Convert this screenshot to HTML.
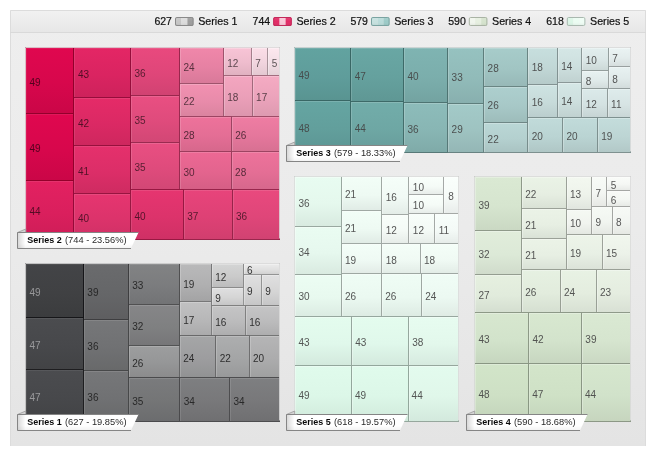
<!DOCTYPE html>
<html><head><meta charset="utf-8"><title>TreeMap</title>
<style>
html,body{margin:0;padding:0;background:#fff;}
body{width:655px;height:455px;overflow:hidden;}
svg{display:block;font-family:"Liberation Sans",Arial,sans-serif;}
svg text{font-size:10px;}
.cells text{fill-opacity:0.9;}
.hl{fill:none;stroke:#fff;}
.lg{font-size:11px;fill:#111;stroke:#111;stroke-width:0.2px;}
.lb{font-size:9.5px;font-weight:bold;fill:#0a0a0a;}
.lv{font-size:9.5px;fill:#2a2a2a;}
</style></head><body>
<svg width="655" height="455" viewBox="0 0 655 455">
<defs>
<linearGradient id="pan" x1="0" y1="0" x2="0" y2="1"><stop offset="0" stop-color="#eeeeee"/><stop offset="0.5" stop-color="#ebebeb"/><stop offset="1" stop-color="#e4e4e4"/></linearGradient>
<linearGradient id="hdr" x1="0" y1="0" x2="0" y2="1"><stop offset="0" stop-color="#f1f1f1"/><stop offset="1" stop-color="#e7e7e7"/></linearGradient>
<linearGradient id="icg" x1="0" y1="0" x2="0" y2="1"><stop offset="0" stop-color="#fff" stop-opacity="0.12"/><stop offset="0.5" stop-color="#fff" stop-opacity="0"/><stop offset="1" stop-color="#000" stop-opacity="0.08"/></linearGradient>
<linearGradient id="lab" x1="0" y1="0" x2="0" y2="1"><stop offset="0" stop-color="#000" stop-opacity="0"/><stop offset="0.7" stop-color="#000" stop-opacity="0"/><stop offset="1" stop-color="#000" stop-opacity="0.05"/></linearGradient>
<linearGradient id="labl" x1="0" y1="0" x2="1" y2="0"><stop offset="0" stop-color="#000" stop-opacity="0.16"/><stop offset="1" stop-color="#000" stop-opacity="0"/></linearGradient>
<linearGradient id="g2_5" x1="0" y1="0" x2="0" y2="1"><stop offset="0" stop-color="#fde8ef"/><stop offset="0.55" stop-color="#f2dee5"/><stop offset="1" stop-color="#e4d1d7"/></linearGradient>
<linearGradient id="g2_7" x1="0" y1="0" x2="0" y2="1"><stop offset="0" stop-color="#fcdee8"/><stop offset="0.55" stop-color="#f1d4de"/><stop offset="1" stop-color="#e3c8d1"/></linearGradient>
<linearGradient id="g2_12" x1="0" y1="0" x2="0" y2="1"><stop offset="0" stop-color="#f8c4d6"/><stop offset="0.55" stop-color="#eebccd"/><stop offset="1" stop-color="#e0b1c0"/></linearGradient>
<linearGradient id="g2_17" x1="0" y1="0" x2="0" y2="1"><stop offset="0" stop-color="#f5abc3"/><stop offset="0.55" stop-color="#eba3bb"/><stop offset="1" stop-color="#dd9ab0"/></linearGradient>
<linearGradient id="g2_18" x1="0" y1="0" x2="0" y2="1"><stop offset="0" stop-color="#f4a6c0"/><stop offset="0.55" stop-color="#ea9fb8"/><stop offset="1" stop-color="#dc95ad"/></linearGradient>
<linearGradient id="g2_22" x1="0" y1="0" x2="0" y2="1"><stop offset="0" stop-color="#f291b1"/><stop offset="0.55" stop-color="#e88baa"/><stop offset="1" stop-color="#da839f"/></linearGradient>
<linearGradient id="g2_24" x1="0" y1="0" x2="0" y2="1"><stop offset="0" stop-color="#f087aa"/><stop offset="0.55" stop-color="#e681a3"/><stop offset="1" stop-color="#d87999"/></linearGradient>
<linearGradient id="g2_26" x1="0" y1="0" x2="0" y2="1"><stop offset="0" stop-color="#ef7da3"/><stop offset="0.55" stop-color="#e5779c"/><stop offset="1" stop-color="#d77092"/></linearGradient>
<linearGradient id="g2_28" x1="0" y1="0" x2="0" y2="1"><stop offset="0" stop-color="#ee729b"/><stop offset="0.55" stop-color="#e46e95"/><stop offset="1" stop-color="#d6678c"/></linearGradient>
<linearGradient id="g2_30" x1="0" y1="0" x2="0" y2="1"><stop offset="0" stop-color="#ed6894"/><stop offset="0.55" stop-color="#e3648e"/><stop offset="1" stop-color="#d55e85"/></linearGradient>
<linearGradient id="g2_35" x1="0" y1="0" x2="0" y2="1"><stop offset="0" stop-color="#e94f82"/><stop offset="0.55" stop-color="#df4b7c"/><stop offset="1" stop-color="#d24775"/></linearGradient>
<linearGradient id="g2_36" x1="0" y1="0" x2="0" y2="1"><stop offset="0" stop-color="#e9497e"/><stop offset="0.55" stop-color="#df4679"/><stop offset="1" stop-color="#d14272"/></linearGradient>
<linearGradient id="g2_37" x1="0" y1="0" x2="0" y2="1"><stop offset="0" stop-color="#e8447b"/><stop offset="0.55" stop-color="#de4175"/><stop offset="1" stop-color="#d13e6e"/></linearGradient>
<linearGradient id="g2_40" x1="0" y1="0" x2="0" y2="1"><stop offset="0" stop-color="#e63570"/><stop offset="0.55" stop-color="#dc336b"/><stop offset="1" stop-color="#cf3065"/></linearGradient>
<linearGradient id="g2_41" x1="0" y1="0" x2="0" y2="1"><stop offset="0" stop-color="#e5306c"/><stop offset="0.55" stop-color="#dc2e68"/><stop offset="1" stop-color="#ce2b61"/></linearGradient>
<linearGradient id="g2_42" x1="0" y1="0" x2="0" y2="1"><stop offset="0" stop-color="#e52b68"/><stop offset="0.55" stop-color="#db2964"/><stop offset="1" stop-color="#ce275e"/></linearGradient>
<linearGradient id="g2_43" x1="0" y1="0" x2="0" y2="1"><stop offset="0" stop-color="#e42665"/><stop offset="0.55" stop-color="#da2461"/><stop offset="1" stop-color="#cd225b"/></linearGradient>
<linearGradient id="g2_44" x1="0" y1="0" x2="0" y2="1"><stop offset="0" stop-color="#e32161"/><stop offset="0.55" stop-color="#da1f5d"/><stop offset="1" stop-color="#cd1d57"/></linearGradient>
<linearGradient id="g2_49" x1="0" y1="0" x2="0" y2="1"><stop offset="0" stop-color="#e0074f"/><stop offset="0.55" stop-color="#d7074c"/><stop offset="1" stop-color="#ca0647"/></linearGradient>
<linearGradient id="g1_6" x1="0" y1="0" x2="0" y2="1"><stop offset="0" stop-color="#ececec"/><stop offset="0.55" stop-color="#e0e0e0"/><stop offset="1" stop-color="#d0d0d0"/></linearGradient>
<linearGradient id="g1_9" x1="0" y1="0" x2="0" y2="1"><stop offset="0" stop-color="#e0e0e1"/><stop offset="0.55" stop-color="#d5d5d5"/><stop offset="1" stop-color="#c5c5c6"/></linearGradient>
<linearGradient id="g1_12" x1="0" y1="0" x2="0" y2="1"><stop offset="0" stop-color="#d4d5d5"/><stop offset="0.55" stop-color="#cacaca"/><stop offset="1" stop-color="#bbbbbc"/></linearGradient>
<linearGradient id="g1_16" x1="0" y1="0" x2="0" y2="1"><stop offset="0" stop-color="#c5c5c6"/><stop offset="0.55" stop-color="#bbbbbc"/><stop offset="1" stop-color="#adadae"/></linearGradient>
<linearGradient id="g1_17" x1="0" y1="0" x2="0" y2="1"><stop offset="0" stop-color="#c1c1c2"/><stop offset="0.55" stop-color="#b7b7b8"/><stop offset="1" stop-color="#aaaaab"/></linearGradient>
<linearGradient id="g1_19" x1="0" y1="0" x2="0" y2="1"><stop offset="0" stop-color="#b9b9ba"/><stop offset="0.55" stop-color="#b0b0b1"/><stop offset="1" stop-color="#a3a3a4"/></linearGradient>
<linearGradient id="g1_20" x1="0" y1="0" x2="0" y2="1"><stop offset="0" stop-color="#b5b5b6"/><stop offset="0.55" stop-color="#acacad"/><stop offset="1" stop-color="#9fa0a0"/></linearGradient>
<linearGradient id="g1_22" x1="0" y1="0" x2="0" y2="1"><stop offset="0" stop-color="#adaeaf"/><stop offset="0.55" stop-color="#a4a5a6"/><stop offset="1" stop-color="#98999a"/></linearGradient>
<linearGradient id="g1_24" x1="0" y1="0" x2="0" y2="1"><stop offset="0" stop-color="#a5a6a7"/><stop offset="0.55" stop-color="#9d9d9f"/><stop offset="1" stop-color="#919293"/></linearGradient>
<linearGradient id="g1_26" x1="0" y1="0" x2="0" y2="1"><stop offset="0" stop-color="#9d9e9f"/><stop offset="0.55" stop-color="#959697"/><stop offset="1" stop-color="#8b8b8c"/></linearGradient>
<linearGradient id="g1_32" x1="0" y1="0" x2="0" y2="1"><stop offset="0" stop-color="#868688"/><stop offset="0.55" stop-color="#7f8081"/><stop offset="1" stop-color="#767678"/></linearGradient>
<linearGradient id="g1_33" x1="0" y1="0" x2="0" y2="1"><stop offset="0" stop-color="#828384"/><stop offset="0.55" stop-color="#7b7c7e"/><stop offset="1" stop-color="#727375"/></linearGradient>
<linearGradient id="g1_34" x1="0" y1="0" x2="0" y2="1"><stop offset="0" stop-color="#7e7f81"/><stop offset="0.55" stop-color="#78787a"/><stop offset="1" stop-color="#6f6f71"/></linearGradient>
<linearGradient id="g1_35" x1="0" y1="0" x2="0" y2="1"><stop offset="0" stop-color="#7a7b7d"/><stop offset="0.55" stop-color="#747576"/><stop offset="1" stop-color="#6b6c6e"/></linearGradient>
<linearGradient id="g1_36" x1="0" y1="0" x2="0" y2="1"><stop offset="0" stop-color="#767779"/><stop offset="0.55" stop-color="#707173"/><stop offset="1" stop-color="#68696a"/></linearGradient>
<linearGradient id="g1_39" x1="0" y1="0" x2="0" y2="1"><stop offset="0" stop-color="#6a6b6d"/><stop offset="0.55" stop-color="#656668"/><stop offset="1" stop-color="#5e5e60"/></linearGradient>
<linearGradient id="g1_47" x1="0" y1="0" x2="0" y2="1"><stop offset="0" stop-color="#4b4c4f"/><stop offset="0.55" stop-color="#47484b"/><stop offset="1" stop-color="#424345"/></linearGradient>
<linearGradient id="g1_49" x1="0" y1="0" x2="0" y2="1"><stop offset="0" stop-color="#434447"/><stop offset="0.55" stop-color="#404143"/><stop offset="1" stop-color="#3b3c3e"/></linearGradient>
<linearGradient id="g5_8" x1="0" y1="0" x2="0" y2="1"><stop offset="0" stop-color="#fafffc"/><stop offset="0.55" stop-color="#f6fbf8"/><stop offset="1" stop-color="#e8ecea"/></linearGradient>
<linearGradient id="g5_10" x1="0" y1="0" x2="0" y2="1"><stop offset="0" stop-color="#f9fffb"/><stop offset="0.55" stop-color="#f5fbf7"/><stop offset="1" stop-color="#e7ece9"/></linearGradient>
<linearGradient id="g5_11" x1="0" y1="0" x2="0" y2="1"><stop offset="0" stop-color="#f8fefb"/><stop offset="0.55" stop-color="#f4faf7"/><stop offset="1" stop-color="#e6ece9"/></linearGradient>
<linearGradient id="g5_12" x1="0" y1="0" x2="0" y2="1"><stop offset="0" stop-color="#f8fefa"/><stop offset="0.55" stop-color="#f4faf6"/><stop offset="1" stop-color="#e6ece8"/></linearGradient>
<linearGradient id="g5_16" x1="0" y1="0" x2="0" y2="1"><stop offset="0" stop-color="#f5fef9"/><stop offset="0.55" stop-color="#f1faf5"/><stop offset="1" stop-color="#e3ece7"/></linearGradient>
<linearGradient id="g5_18" x1="0" y1="0" x2="0" y2="1"><stop offset="0" stop-color="#f4fef8"/><stop offset="0.55" stop-color="#f0faf4"/><stop offset="1" stop-color="#e2ece6"/></linearGradient>
<linearGradient id="g5_19" x1="0" y1="0" x2="0" y2="1"><stop offset="0" stop-color="#f3fef8"/><stop offset="0.55" stop-color="#effaf4"/><stop offset="1" stop-color="#e2ebe6"/></linearGradient>
<linearGradient id="g5_21" x1="0" y1="0" x2="0" y2="1"><stop offset="0" stop-color="#f2fef7"/><stop offset="0.55" stop-color="#eefaf3"/><stop offset="1" stop-color="#e0ebe5"/></linearGradient>
<linearGradient id="g5_24" x1="0" y1="0" x2="0" y2="1"><stop offset="0" stop-color="#f0fdf6"/><stop offset="0.55" stop-color="#ecf9f2"/><stop offset="1" stop-color="#dfebe4"/></linearGradient>
<linearGradient id="g5_26" x1="0" y1="0" x2="0" y2="1"><stop offset="0" stop-color="#effdf5"/><stop offset="0.55" stop-color="#ebf9f1"/><stop offset="1" stop-color="#ddebe3"/></linearGradient>
<linearGradient id="g5_30" x1="0" y1="0" x2="0" y2="1"><stop offset="0" stop-color="#ecfdf3"/><stop offset="0.55" stop-color="#e8f9ef"/><stop offset="1" stop-color="#dbebe2"/></linearGradient>
<linearGradient id="g5_34" x1="0" y1="0" x2="0" y2="1"><stop offset="0" stop-color="#eafcf2"/><stop offset="0.55" stop-color="#e6f8ee"/><stop offset="1" stop-color="#d9eae0"/></linearGradient>
<linearGradient id="g5_36" x1="0" y1="0" x2="0" y2="1"><stop offset="0" stop-color="#e8fcf1"/><stop offset="0.55" stop-color="#e5f8ed"/><stop offset="1" stop-color="#d8eae0"/></linearGradient>
<linearGradient id="g5_38" x1="0" y1="0" x2="0" y2="1"><stop offset="0" stop-color="#e7fcf0"/><stop offset="0.55" stop-color="#e3f8ec"/><stop offset="1" stop-color="#d6eadf"/></linearGradient>
<linearGradient id="g5_43" x1="0" y1="0" x2="0" y2="1"><stop offset="0" stop-color="#e4fcee"/><stop offset="0.55" stop-color="#e0f8eb"/><stop offset="1" stop-color="#d3e9dd"/></linearGradient>
<linearGradient id="g5_44" x1="0" y1="0" x2="0" y2="1"><stop offset="0" stop-color="#e3fbee"/><stop offset="0.55" stop-color="#e0f7ea"/><stop offset="1" stop-color="#d3e9dd"/></linearGradient>
<linearGradient id="g5_49" x1="0" y1="0" x2="0" y2="1"><stop offset="0" stop-color="#e0fbec"/><stop offset="0.55" stop-color="#dcf7e8"/><stop offset="1" stop-color="#d0e9db"/></linearGradient>
<linearGradient id="g4_5" x1="0" y1="0" x2="0" y2="1"><stop offset="0" stop-color="#fafcf9"/><stop offset="0.55" stop-color="#f5f7f4"/><stop offset="1" stop-color="#e7e9e6"/></linearGradient>
<linearGradient id="g4_6" x1="0" y1="0" x2="0" y2="1"><stop offset="0" stop-color="#f9fbf8"/><stop offset="0.55" stop-color="#f4f7f3"/><stop offset="1" stop-color="#e6e9e5"/></linearGradient>
<linearGradient id="g4_7" x1="0" y1="0" x2="0" y2="1"><stop offset="0" stop-color="#f8fbf7"/><stop offset="0.55" stop-color="#f3f6f2"/><stop offset="1" stop-color="#e6e8e4"/></linearGradient>
<linearGradient id="g4_8" x1="0" y1="0" x2="0" y2="1"><stop offset="0" stop-color="#f7faf6"/><stop offset="0.55" stop-color="#f2f5f1"/><stop offset="1" stop-color="#e5e8e3"/></linearGradient>
<linearGradient id="g4_9" x1="0" y1="0" x2="0" y2="1"><stop offset="0" stop-color="#f6faf5"/><stop offset="0.55" stop-color="#f1f5f0"/><stop offset="1" stop-color="#e4e7e2"/></linearGradient>
<linearGradient id="g4_10" x1="0" y1="0" x2="0" y2="1"><stop offset="0" stop-color="#f5f9f3"/><stop offset="0.55" stop-color="#f1f4ef"/><stop offset="1" stop-color="#e3e7e1"/></linearGradient>
<linearGradient id="g4_13" x1="0" y1="0" x2="0" y2="1"><stop offset="0" stop-color="#f3f8f0"/><stop offset="0.55" stop-color="#eef3eb"/><stop offset="1" stop-color="#e0e5de"/></linearGradient>
<linearGradient id="g4_15" x1="0" y1="0" x2="0" y2="1"><stop offset="0" stop-color="#f1f7ee"/><stop offset="0.55" stop-color="#ecf2e9"/><stop offset="1" stop-color="#dfe4dc"/></linearGradient>
<linearGradient id="g4_19" x1="0" y1="0" x2="0" y2="1"><stop offset="0" stop-color="#edf4e9"/><stop offset="0.55" stop-color="#e8f0e5"/><stop offset="1" stop-color="#dbe2d8"/></linearGradient>
<linearGradient id="g4_21" x1="0" y1="0" x2="0" y2="1"><stop offset="0" stop-color="#ebf3e7"/><stop offset="0.55" stop-color="#e7efe3"/><stop offset="1" stop-color="#d9e1d6"/></linearGradient>
<linearGradient id="g4_22" x1="0" y1="0" x2="0" y2="1"><stop offset="0" stop-color="#eaf3e6"/><stop offset="0.55" stop-color="#e6eee2"/><stop offset="1" stop-color="#d9e1d5"/></linearGradient>
<linearGradient id="g4_23" x1="0" y1="0" x2="0" y2="1"><stop offset="0" stop-color="#e9f2e5"/><stop offset="0.55" stop-color="#e5ede0"/><stop offset="1" stop-color="#d8e0d4"/></linearGradient>
<linearGradient id="g4_24" x1="0" y1="0" x2="0" y2="1"><stop offset="0" stop-color="#e8f2e4"/><stop offset="0.55" stop-color="#e4eddf"/><stop offset="1" stop-color="#d7e0d3"/></linearGradient>
<linearGradient id="g4_26" x1="0" y1="0" x2="0" y2="1"><stop offset="0" stop-color="#e6f1e2"/><stop offset="0.55" stop-color="#e2ecdd"/><stop offset="1" stop-color="#d5dfd1"/></linearGradient>
<linearGradient id="g4_27" x1="0" y1="0" x2="0" y2="1"><stop offset="0" stop-color="#e6f0e0"/><stop offset="0.55" stop-color="#e1ebdc"/><stop offset="1" stop-color="#d4ded0"/></linearGradient>
<linearGradient id="g4_32" x1="0" y1="0" x2="0" y2="1"><stop offset="0" stop-color="#e1eddb"/><stop offset="0.55" stop-color="#dce9d7"/><stop offset="1" stop-color="#d0dbcb"/></linearGradient>
<linearGradient id="g4_39" x1="0" y1="0" x2="0" y2="1"><stop offset="0" stop-color="#dae9d3"/><stop offset="0.55" stop-color="#d6e5cf"/><stop offset="1" stop-color="#cad8c3"/></linearGradient>
<linearGradient id="g4_42" x1="0" y1="0" x2="0" y2="1"><stop offset="0" stop-color="#d8e8d0"/><stop offset="0.55" stop-color="#d3e3cc"/><stop offset="1" stop-color="#c7d6c0"/></linearGradient>
<linearGradient id="g4_43" x1="0" y1="0" x2="0" y2="1"><stop offset="0" stop-color="#d7e7cf"/><stop offset="0.55" stop-color="#d2e3cb"/><stop offset="1" stop-color="#c6d6bf"/></linearGradient>
<linearGradient id="g4_44" x1="0" y1="0" x2="0" y2="1"><stop offset="0" stop-color="#d6e7ce"/><stop offset="0.55" stop-color="#d1e2ca"/><stop offset="1" stop-color="#c6d5be"/></linearGradient>
<linearGradient id="g4_47" x1="0" y1="0" x2="0" y2="1"><stop offset="0" stop-color="#d3e5ca"/><stop offset="0.55" stop-color="#cfe1c6"/><stop offset="1" stop-color="#c3d4bb"/></linearGradient>
<linearGradient id="g4_48" x1="0" y1="0" x2="0" y2="1"><stop offset="0" stop-color="#d2e5c9"/><stop offset="0.55" stop-color="#cee0c5"/><stop offset="1" stop-color="#c2d3ba"/></linearGradient>
<linearGradient id="g3_7" x1="0" y1="0" x2="0" y2="1"><stop offset="0" stop-color="#ebf4f4"/><stop offset="0.55" stop-color="#e3ecec"/><stop offset="1" stop-color="#d5dddd"/></linearGradient>
<linearGradient id="g3_8" x1="0" y1="0" x2="0" y2="1"><stop offset="0" stop-color="#e8f2f2"/><stop offset="0.55" stop-color="#e0eaea"/><stop offset="1" stop-color="#d2dbdb"/></linearGradient>
<linearGradient id="g3_10" x1="0" y1="0" x2="0" y2="1"><stop offset="0" stop-color="#e2eeee"/><stop offset="0.55" stop-color="#dae6e6"/><stop offset="1" stop-color="#ccd8d7"/></linearGradient>
<linearGradient id="g3_11" x1="0" y1="0" x2="0" y2="1"><stop offset="0" stop-color="#deecec"/><stop offset="0.55" stop-color="#d7e4e4"/><stop offset="1" stop-color="#c9d6d6"/></linearGradient>
<linearGradient id="g3_12" x1="0" y1="0" x2="0" y2="1"><stop offset="0" stop-color="#dbeaea"/><stop offset="0.55" stop-color="#d4e2e2"/><stop offset="1" stop-color="#c6d4d4"/></linearGradient>
<linearGradient id="g3_14" x1="0" y1="0" x2="0" y2="1"><stop offset="0" stop-color="#d5e7e6"/><stop offset="0.55" stop-color="#cddfde"/><stop offset="1" stop-color="#c0d1d0"/></linearGradient>
<linearGradient id="g3_16" x1="0" y1="0" x2="0" y2="1"><stop offset="0" stop-color="#cee3e2"/><stop offset="0.55" stop-color="#c7dbda"/><stop offset="1" stop-color="#bacdcd"/></linearGradient>
<linearGradient id="g3_18" x1="0" y1="0" x2="0" y2="1"><stop offset="0" stop-color="#c7dfde"/><stop offset="0.55" stop-color="#c1d7d6"/><stop offset="1" stop-color="#b5cac9"/></linearGradient>
<linearGradient id="g3_19" x1="0" y1="0" x2="0" y2="1"><stop offset="0" stop-color="#c4dddc"/><stop offset="0.55" stop-color="#bdd5d4"/><stop offset="1" stop-color="#b2c8c7"/></linearGradient>
<linearGradient id="g3_20" x1="0" y1="0" x2="0" y2="1"><stop offset="0" stop-color="#c1dbda"/><stop offset="0.55" stop-color="#bad4d3"/><stop offset="1" stop-color="#afc6c5"/></linearGradient>
<linearGradient id="g3_22" x1="0" y1="0" x2="0" y2="1"><stop offset="0" stop-color="#bad7d6"/><stop offset="0.55" stop-color="#b4d0cf"/><stop offset="1" stop-color="#a9c3c2"/></linearGradient>
<linearGradient id="g3_26" x1="0" y1="0" x2="0" y2="1"><stop offset="0" stop-color="#adcfce"/><stop offset="0.55" stop-color="#a7c8c7"/><stop offset="1" stop-color="#9dbcba"/></linearGradient>
<linearGradient id="g3_28" x1="0" y1="0" x2="0" y2="1"><stop offset="0" stop-color="#a7ccca"/><stop offset="0.55" stop-color="#a1c5c3"/><stop offset="1" stop-color="#97b8b7"/></linearGradient>
<linearGradient id="g3_29" x1="0" y1="0" x2="0" y2="1"><stop offset="0" stop-color="#a3cac8"/><stop offset="0.55" stop-color="#9ec3c1"/><stop offset="1" stop-color="#94b6b5"/></linearGradient>
<linearGradient id="g3_33" x1="0" y1="0" x2="0" y2="1"><stop offset="0" stop-color="#96c2c0"/><stop offset="0.55" stop-color="#91bbb9"/><stop offset="1" stop-color="#88afae"/></linearGradient>
<linearGradient id="g3_36" x1="0" y1="0" x2="0" y2="1"><stop offset="0" stop-color="#8dbcba"/><stop offset="0.55" stop-color="#88b6b4"/><stop offset="1" stop-color="#7faaa8"/></linearGradient>
<linearGradient id="g3_40" x1="0" y1="0" x2="0" y2="1"><stop offset="0" stop-color="#7fb4b2"/><stop offset="0.55" stop-color="#7baeac"/><stop offset="1" stop-color="#73a3a1"/></linearGradient>
<linearGradient id="g3_44" x1="0" y1="0" x2="0" y2="1"><stop offset="0" stop-color="#72adaa"/><stop offset="0.55" stop-color="#6ea7a4"/><stop offset="1" stop-color="#679c9a"/></linearGradient>
<linearGradient id="g3_47" x1="0" y1="0" x2="0" y2="1"><stop offset="0" stop-color="#69a7a4"/><stop offset="0.55" stop-color="#65a19e"/><stop offset="1" stop-color="#5f9794"/></linearGradient>
<linearGradient id="g3_48" x1="0" y1="0" x2="0" y2="1"><stop offset="0" stop-color="#65a5a2"/><stop offset="0.55" stop-color="#629f9c"/><stop offset="1" stop-color="#5c9593"/></linearGradient>
<linearGradient id="g3_49" x1="0" y1="0" x2="0" y2="1"><stop offset="0" stop-color="#62a3a0"/><stop offset="0.55" stop-color="#5f9d9b"/><stop offset="1" stop-color="#599491"/></linearGradient>
</defs>
<rect x="10" y="10" width="636" height="436" fill="url(#pan)"/>
<path d="M10.5 446V10.5H645.5V446" fill="none" stroke="#dcdcdc"/>
<rect x="11" y="11" width="634" height="21" fill="url(#hdr)"/>
<rect x="10" y="32" width="636" height="1" fill="#d9d9d9"/>
<g class="legend">
<text class="lg" x="154.4" y="25.3" textLength="17.6" lengthAdjust="spacingAndGlyphs">627</text>
<g transform="translate(175,17)"><clipPath id="cp1"><rect x="0" y="0" width="18.6" height="9" rx="1.6"/></clipPath><g clip-path="url(#cp1)"><rect x="0" y="0" width="6.4" height="9" fill="#c6c6c6"/><rect x="6.4" y="0" width="6" height="9" fill="#dcdcdc"/><rect x="12.4" y="0" width="6.2" height="9" fill="#9e9e9e"/><rect x="0" y="0" width="18.6" height="9" fill="url(#icg)"/></g><rect x="0.5" y="0.5" width="17.6" height="8" rx="1.4" fill="none" stroke="#8a8a8a"/></g>
<text class="lg" x="198.2" y="25.3" textLength="39.3" lengthAdjust="spacingAndGlyphs">Series 1</text>
<text class="lg" x="252.6" y="25.3" textLength="17.6" lengthAdjust="spacingAndGlyphs">744</text>
<g transform="translate(273.2,17)"><clipPath id="cp2"><rect x="0" y="0" width="18.6" height="9" rx="1.6"/></clipPath><g clip-path="url(#cp2)"><rect x="0" y="0" width="6.4" height="9" fill="#e22c66"/><rect x="6.4" y="0" width="6" height="9" fill="#f9c6d7"/><rect x="12.4" y="0" width="6.2" height="9" fill="#e22c66"/><rect x="0" y="0" width="18.6" height="9" fill="url(#icg)"/></g><rect x="0.5" y="0.5" width="17.6" height="8" rx="1.4" fill="none" stroke="#c22a5a"/></g>
<text class="lg" x="296.4" y="25.3" textLength="39.3" lengthAdjust="spacingAndGlyphs">Series 2</text>
<text class="lg" x="350.4" y="25.3" textLength="17.6" lengthAdjust="spacingAndGlyphs">579</text>
<g transform="translate(371,17)"><clipPath id="cp3"><rect x="0" y="0" width="18.6" height="9" rx="1.6"/></clipPath><g clip-path="url(#cp3)"><rect x="0" y="0" width="6.4" height="9" fill="#c6e1df"/><rect x="6.4" y="0" width="6" height="9" fill="#b9dbd9"/><rect x="12.4" y="0" width="6.2" height="9" fill="#9ccac7"/><rect x="0" y="0" width="18.6" height="9" fill="url(#icg)"/></g><rect x="0.5" y="0.5" width="17.6" height="8" rx="1.4" fill="none" stroke="#7aa3a1"/></g>
<text class="lg" x="394.2" y="25.3" textLength="39.3" lengthAdjust="spacingAndGlyphs">Series 3</text>
<text class="lg" x="448.2" y="25.3" textLength="17.6" lengthAdjust="spacingAndGlyphs">590</text>
<g transform="translate(468.8,17)"><clipPath id="cp4"><rect x="0" y="0" width="18.6" height="9" rx="1.6"/></clipPath><g clip-path="url(#cp4)"><rect x="0" y="0" width="6.4" height="9" fill="#f0f5ed"/><rect x="6.4" y="0" width="6" height="9" fill="#e6efe0"/><rect x="12.4" y="0" width="6.2" height="9" fill="#d5e3cd"/><rect x="0" y="0" width="18.6" height="9" fill="url(#icg)"/></g><rect x="0.5" y="0.5" width="17.6" height="8" rx="1.4" fill="none" stroke="#a9b3a4"/></g>
<text class="lg" x="492" y="25.3" textLength="39.3" lengthAdjust="spacingAndGlyphs">Series 4</text>
<text class="lg" x="546.2" y="25.3" textLength="17.6" lengthAdjust="spacingAndGlyphs">618</text>
<g transform="translate(566.8,17)"><clipPath id="cp5"><rect x="0" y="0" width="18.6" height="9" rx="1.6"/></clipPath><g clip-path="url(#cp5)"><rect x="0" y="0" width="6.4" height="9" fill="#dcf6e7"/><rect x="6.4" y="0" width="6" height="9" fill="#ebfcf2"/><rect x="12.4" y="0" width="6.2" height="9" fill="#effdf5"/><rect x="0" y="0" width="18.6" height="9" fill="url(#icg)"/></g><rect x="0.5" y="0.5" width="17.6" height="8" rx="1.4" fill="none" stroke="#a9b8af"/></g>
<text class="lg" x="590" y="25.3" textLength="39.3" lengthAdjust="spacingAndGlyphs">Series 5</text>
</g>
<g class="cells" stroke-width="1">
<g class="s2">
<rect x="267.5" y="47.5" width="12" height="28" fill="url(#g2_5)" stroke="#a8999e"/>
<path class="hl" stroke-opacity="0.30" d="M268.5 75V48.5H279"/>
<rect x="251.5" y="47.5" width="16" height="28" fill="url(#g2_7)" stroke="#a79299"/>
<path class="hl" stroke-opacity="0.29" d="M252.5 75V48.5H267"/>
<rect x="223.5" y="47.5" width="28" height="28" fill="url(#g2_12)" stroke="#a57f8c"/>
<path class="hl" stroke-opacity="0.25" d="M224.5 75V48.5H251"/>
<rect x="252.5" y="75.5" width="27" height="41" fill="url(#g2_17)" stroke="#a26d7f"/>
<path class="hl" stroke-opacity="0.22" d="M253.5 116V76.5H279"/>
<rect x="223.5" y="75.5" width="29" height="41" fill="url(#g2_18)" stroke="#a2697c"/>
<path class="hl" stroke-opacity="0.21" d="M224.5 116V76.5H252"/>
<rect x="179.5" y="83.5" width="44" height="33" fill="url(#g2_22)" stroke="#a05a72"/>
<path class="hl" stroke-opacity="0.19" d="M180.5 116V84.5H223"/>
<rect x="179.5" y="47.5" width="44" height="36" fill="url(#g2_24)" stroke="#9f536c"/>
<path class="hl" stroke-opacity="0.17" d="M180.5 83V48.5H223"/>
<rect x="231.5" y="116.5" width="48" height="35" fill="url(#g2_26)" stroke="#9e4c67"/>
<path class="hl" stroke-opacity="0.16" d="M232.5 151V117.5H279"/>
<rect x="231.5" y="151.5" width="48" height="38" fill="url(#g2_28)" stroke="#9d4462"/>
<path class="hl" stroke-opacity="0.15" d="M232.5 189V152.5H279"/>
<rect x="179.5" y="116.5" width="52" height="35" fill="url(#g2_28)" stroke="#9d4462"/>
<path class="hl" stroke-opacity="0.15" d="M180.5 151V117.5H231"/>
<rect x="179.5" y="151.5" width="52" height="38" fill="url(#g2_30)" stroke="#9c3d5d"/>
<path class="hl" stroke-opacity="0.14" d="M180.5 189V152.5H231"/>
<rect x="130.5" y="95.5" width="49" height="47" fill="url(#g2_35)" stroke="#9a2b50"/>
<path class="hl" stroke-opacity="0.12" d="M131.5 142V96.5H179"/>
<rect x="130.5" y="142.5" width="49" height="47" fill="url(#g2_35)" stroke="#9a2b50"/>
<path class="hl" stroke-opacity="0.12" d="M131.5 189V143.5H179"/>
<rect x="232.5" y="189.5" width="47" height="50" fill="url(#g2_36)" stroke="#99274d"/>
<path class="hl" stroke-opacity="0.11" d="M233.5 239V190.5H279"/>
<rect x="130.5" y="47.5" width="49" height="48" fill="url(#g2_36)" stroke="#99274d"/>
<path class="hl" stroke-opacity="0.11" d="M131.5 95V48.5H179"/>
<rect x="183.5" y="189.5" width="49" height="50" fill="url(#g2_37)" stroke="#99234a"/>
<path class="hl" stroke-opacity="0.11" d="M184.5 239V190.5H232"/>
<rect x="73.5" y="193.5" width="57" height="46" fill="url(#g2_40)" stroke="#981842"/>
<path class="hl" stroke-opacity="0.10" d="M74.5 239V194.5H130"/>
<rect x="130.5" y="189.5" width="53" height="50" fill="url(#g2_40)" stroke="#981842"/>
<path class="hl" stroke-opacity="0.10" d="M131.5 239V190.5H183"/>
<rect x="73.5" y="145.5" width="57" height="48" fill="url(#g2_41)" stroke="#971440"/>
<path class="hl" stroke-opacity="0.09" d="M74.5 193V146.5H130"/>
<rect x="73.5" y="97.5" width="57" height="48" fill="url(#g2_42)" stroke="#97113d"/>
<path class="hl" stroke-opacity="0.09" d="M74.5 145V98.5H130"/>
<rect x="73.5" y="47.5" width="57" height="50" fill="url(#g2_43)" stroke="#960d3b"/>
<path class="hl" stroke-opacity="0.09" d="M74.5 97V48.5H130"/>
<rect x="25.5" y="180.5" width="48" height="59" fill="url(#g2_44)" stroke="#960938"/>
<path class="hl" stroke-opacity="0.08" d="M26.5 239V181.5H73"/>
<rect x="25.5" y="47.5" width="48" height="66" fill="url(#g2_49)" stroke="#93002b"/>
<path class="hl" stroke-opacity="0.07" d="M26.5 113V48.5H73"/>
<rect x="25.5" y="113.5" width="48" height="67" fill="url(#g2_49)" stroke="#93002b"/>
<path class="hl" stroke-opacity="0.07" d="M26.5 180V114.5H73"/>
<path d="M25.5 238.5V47.5H279.5V238.5" fill="none" stroke="#ececec" stroke-opacity="0.8"/>
<text x="271.69" y="66.7" fill="#4c4648">5</text>
<text x="255.3" y="66.7" fill="#4c4346">7</text>
<text x="227.21" y="66.7" fill="#4b3b40">12</text>
<text x="256.11" y="101.11" fill="#4a333b">17</text>
<text x="227.21" y="101.11" fill="#49323a">18</text>
<text x="183.4" y="105.07" fill="#492c35">22</text>
<text x="183.4" y="70.65" fill="#482833">24</text>
<text x="235.25" y="139.22" fill="#482531">26</text>
<text x="235.12" y="175.93" fill="#47222f">28</text>
<text x="183.4" y="139.22" fill="#47222f">28</text>
<text x="183.4" y="175.93" fill="#471f2c">30</text>
<text x="134.55" y="124.49" fill="#461827">35</text>
<text x="134.55" y="171.46" fill="#461827">35</text>
<text x="235.98" y="219.82" fill="#461626">36</text>
<text x="134.55" y="76.85" fill="#461626">36</text>
<text x="187.24" y="219.82" fill="#461525">37</text>
<text x="77.88" y="221.57" fill="#451022">40</text>
<text x="134.55" y="219.82" fill="#451022">40</text>
<text x="77.88" y="174.72" fill="#450e20">41</text>
<text x="77.88" y="126.72" fill="#450d1f">42</text>
<text x="77.88" y="77.57" fill="#440b1e">43</text>
<text x="29.4" y="214.95" fill="#440a1d">44</text>
<text x="29.4" y="85.83" fill="#430218">49</text>
<text x="29.4" y="152.08" fill="#430218">49</text>
</g>
<g class="s1">
<rect x="243.5" y="263.5" width="36" height="11" fill="url(#g1_6)" stroke="#9c9c9c"/>
<path class="hl" stroke-opacity="0.30" d="M244.5 274V264.5H279"/>
<rect x="211.5" y="287.5" width="32" height="18" fill="url(#g1_9)" stroke="#939494"/>
<path class="hl" stroke-opacity="0.27" d="M212.5 305V288.5H243"/>
<rect x="243.5" y="274.5" width="18" height="31" fill="url(#g1_9)" stroke="#939494"/>
<path class="hl" stroke-opacity="0.27" d="M244.5 305V275.5H261"/>
<rect x="261.5" y="274.5" width="18" height="31" fill="url(#g1_9)" stroke="#939494"/>
<path class="hl" stroke-opacity="0.27" d="M262.5 305V275.5H279"/>
<rect x="211.5" y="263.5" width="32" height="24" fill="url(#g1_12)" stroke="#8b8b8b"/>
<path class="hl" stroke-opacity="0.25" d="M212.5 287V264.5H243"/>
<rect x="211.5" y="305.5" width="34" height="30" fill="url(#g1_16)" stroke="#808080"/>
<path class="hl" stroke-opacity="0.22" d="M212.5 335V306.5H245"/>
<rect x="245.5" y="305.5" width="34" height="30" fill="url(#g1_16)" stroke="#808080"/>
<path class="hl" stroke-opacity="0.22" d="M246.5 335V306.5H279"/>
<rect x="179.5" y="301.5" width="32" height="34" fill="url(#g1_17)" stroke="#7d7d7e"/>
<path class="hl" stroke-opacity="0.21" d="M180.5 335V302.5H211"/>
<rect x="179.5" y="263.5" width="32" height="38" fill="url(#g1_19)" stroke="#777778"/>
<path class="hl" stroke-opacity="0.20" d="M180.5 301V264.5H211"/>
<rect x="249.5" y="335.5" width="30" height="42" fill="url(#g1_20)" stroke="#747575"/>
<path class="hl" stroke-opacity="0.19" d="M250.5 377V336.5H279"/>
<rect x="215.5" y="335.5" width="34" height="42" fill="url(#g1_22)" stroke="#6f6f70"/>
<path class="hl" stroke-opacity="0.18" d="M216.5 377V336.5H249"/>
<rect x="179.5" y="335.5" width="36" height="42" fill="url(#g1_24)" stroke="#69696a"/>
<path class="hl" stroke-opacity="0.17" d="M180.5 377V336.5H215"/>
<rect x="128.5" y="345.5" width="51" height="32" fill="url(#g1_26)" stroke="#636465"/>
<path class="hl" stroke-opacity="0.16" d="M129.5 377V346.5H179"/>
<rect x="128.5" y="304.5" width="51" height="41" fill="url(#g1_32)" stroke="#525354"/>
<path class="hl" stroke-opacity="0.12" d="M129.5 345V305.5H179"/>
<rect x="128.5" y="263.5" width="51" height="41" fill="url(#g1_33)" stroke="#505051"/>
<path class="hl" stroke-opacity="0.12" d="M129.5 304V264.5H179"/>
<rect x="179.5" y="377.5" width="50" height="44" fill="url(#g1_34)" stroke="#4d4d4f"/>
<path class="hl" stroke-opacity="0.11" d="M180.5 421V378.5H229"/>
<rect x="229.5" y="377.5" width="50" height="44" fill="url(#g1_34)" stroke="#4d4d4f"/>
<path class="hl" stroke-opacity="0.11" d="M230.5 421V378.5H279"/>
<rect x="128.5" y="377.5" width="51" height="44" fill="url(#g1_35)" stroke="#4a4a4c"/>
<path class="hl" stroke-opacity="0.11" d="M129.5 421V378.5H179"/>
<rect x="83.5" y="319.5" width="45" height="51" fill="url(#g1_36)" stroke="#474849"/>
<path class="hl" stroke-opacity="0.11" d="M84.5 370V320.5H128"/>
<rect x="83.5" y="370.5" width="45" height="51" fill="url(#g1_36)" stroke="#474849"/>
<path class="hl" stroke-opacity="0.11" d="M84.5 421V371.5H128"/>
<rect x="83.5" y="263.5" width="45" height="56" fill="url(#g1_39)" stroke="#3e3e40"/>
<path class="hl" stroke-opacity="0.09" d="M84.5 319V264.5H128"/>
<rect x="25.5" y="317.5" width="58" height="52" fill="url(#g1_47)" stroke="#1e1e20"/>
<path class="hl" stroke-opacity="0.07" d="M26.5 369V318.5H83"/>
<rect x="25.5" y="369.5" width="58" height="52" fill="url(#g1_47)" stroke="#1e1e20"/>
<path class="hl" stroke-opacity="0.07" d="M26.5 421V370.5H83"/>
<rect x="25.5" y="263.5" width="58" height="54" fill="url(#g1_49)" stroke="#161619"/>
<path class="hl" stroke-opacity="0.06" d="M26.5 317V264.5H83"/>
<path d="M25.5 420.5V263.5H279.5V420.5" fill="none" stroke="#ececec" stroke-opacity="0.8"/>
<text x="246.99" y="273.97" fill="#202020">6</text>
<text x="215.14" y="301.85" fill="#202020">9</text>
<text x="246.99" y="295.07" fill="#202020">9</text>
<text x="265.2" y="295.07" fill="#202020">9</text>
<text x="215.14" y="280.76" fill="#202020">12</text>
<text x="215.14" y="325.9" fill="#202020">16</text>
<text x="249.27" y="325.9" fill="#202020">16</text>
<text x="183.22" y="323.85" fill="#202020">17</text>
<text x="183.22" y="287.75" fill="#202020">19</text>
<text x="253.04" y="361.99" fill="#202020">20</text>
<text x="219.65" y="361.99" fill="#202020">22</text>
<text x="183.22" y="361.99" fill="#202020">24</text>
<text x="132.3" y="366.73" fill="#202020">26</text>
<text x="132.3" y="330.28" fill="#202020">32</text>
<text x="132.3" y="289.44" fill="#202020">33</text>
<text x="183.64" y="404.88" fill="#202020">34</text>
<text x="233.52" y="404.88" fill="#202020">34</text>
<text x="132.3" y="404.88" fill="#202020">35</text>
<text x="87.33" y="349.84" fill="#202020">36</text>
<text x="87.33" y="401.08" fill="#202020">36</text>
<text x="87.33" y="296.46" fill="#202020">39</text>
<text x="29.4" y="348.8" fill="#a2a2a4">47</text>
<text x="29.4" y="400.73" fill="#a2a2a4">47</text>
<text x="29.4" y="295.77" fill="#a2a2a4">49</text>
</g>
<g class="s5">
<rect x="443.5" y="176.5" width="15" height="37" fill="url(#g5_8)" stroke="#a6a9a7"/>
<path class="hl" stroke-opacity="0.34" d="M444.5 213V177.5H458"/>
<rect x="408.5" y="176.5" width="35" height="18" fill="url(#g5_10)" stroke="#a5a9a7"/>
<path class="hl" stroke-opacity="0.33" d="M409.5 194V177.5H443"/>
<rect x="408.5" y="194.5" width="35" height="19" fill="url(#g5_10)" stroke="#a5a9a7"/>
<path class="hl" stroke-opacity="0.33" d="M409.5 213V195.5H443"/>
<rect x="434.5" y="213.5" width="24" height="30" fill="url(#g5_11)" stroke="#a5a9a6"/>
<path class="hl" stroke-opacity="0.33" d="M435.5 243V214.5H458"/>
<rect x="381.5" y="214.5" width="27" height="29" fill="url(#g5_12)" stroke="#a4a9a6"/>
<path class="hl" stroke-opacity="0.33" d="M382.5 243V215.5H408"/>
<rect x="408.5" y="213.5" width="26" height="30" fill="url(#g5_12)" stroke="#a4a9a6"/>
<path class="hl" stroke-opacity="0.33" d="M409.5 243V214.5H434"/>
<rect x="381.5" y="176.5" width="27" height="38" fill="url(#g5_16)" stroke="#a2a9a5"/>
<path class="hl" stroke-opacity="0.33" d="M382.5 214V177.5H408"/>
<rect x="381.5" y="243.5" width="39" height="30" fill="url(#g5_18)" stroke="#a1a9a5"/>
<path class="hl" stroke-opacity="0.33" d="M382.5 273V244.5H420"/>
<rect x="420.5" y="243.5" width="38" height="30" fill="url(#g5_18)" stroke="#a1a9a5"/>
<path class="hl" stroke-opacity="0.33" d="M421.5 273V244.5H458"/>
<rect x="341.5" y="243.5" width="40" height="30" fill="url(#g5_19)" stroke="#a1a9a4"/>
<path class="hl" stroke-opacity="0.33" d="M342.5 273V244.5H381"/>
<rect x="341.5" y="176.5" width="40" height="34" fill="url(#g5_21)" stroke="#a0a9a4"/>
<path class="hl" stroke-opacity="0.33" d="M342.5 210V177.5H381"/>
<rect x="341.5" y="210.5" width="40" height="33" fill="url(#g5_21)" stroke="#a0a9a4"/>
<path class="hl" stroke-opacity="0.33" d="M342.5 243V211.5H381"/>
<rect x="421.5" y="273.5" width="37" height="43" fill="url(#g5_24)" stroke="#9fa8a3"/>
<path class="hl" stroke-opacity="0.32" d="M422.5 316V274.5H458"/>
<rect x="341.5" y="273.5" width="40" height="43" fill="url(#g5_26)" stroke="#9ea8a2"/>
<path class="hl" stroke-opacity="0.32" d="M342.5 316V274.5H381"/>
<rect x="381.5" y="273.5" width="40" height="43" fill="url(#g5_26)" stroke="#9ea8a2"/>
<path class="hl" stroke-opacity="0.32" d="M382.5 316V274.5H421"/>
<rect x="294.5" y="274.5" width="47" height="42" fill="url(#g5_30)" stroke="#9ca8a1"/>
<path class="hl" stroke-opacity="0.32" d="M295.5 316V275.5H341"/>
<rect x="294.5" y="226.5" width="47" height="48" fill="url(#g5_34)" stroke="#9aa8a0"/>
<path class="hl" stroke-opacity="0.32" d="M295.5 274V227.5H341"/>
<rect x="294.5" y="176.5" width="47" height="50" fill="url(#g5_36)" stroke="#99a8a0"/>
<path class="hl" stroke-opacity="0.32" d="M295.5 226V177.5H341"/>
<rect x="408.5" y="316.5" width="50" height="49" fill="url(#g5_38)" stroke="#98a79f"/>
<path class="hl" stroke-opacity="0.32" d="M409.5 365V317.5H458"/>
<rect x="294.5" y="316.5" width="57" height="49" fill="url(#g5_43)" stroke="#96a79e"/>
<path class="hl" stroke-opacity="0.31" d="M295.5 365V317.5H351"/>
<rect x="351.5" y="316.5" width="57" height="49" fill="url(#g5_43)" stroke="#96a79e"/>
<path class="hl" stroke-opacity="0.31" d="M352.5 365V317.5H408"/>
<rect x="408.5" y="365.5" width="50" height="56" fill="url(#g5_44)" stroke="#96a79d"/>
<path class="hl" stroke-opacity="0.31" d="M409.5 421V366.5H458"/>
<rect x="294.5" y="365.5" width="57" height="56" fill="url(#g5_49)" stroke="#93a79c"/>
<path class="hl" stroke-opacity="0.31" d="M295.5 421V366.5H351"/>
<rect x="351.5" y="365.5" width="57" height="56" fill="url(#g5_49)" stroke="#93a79c"/>
<path class="hl" stroke-opacity="0.31" d="M352.5 421V366.5H408"/>
<path d="M294.5 420.5V176.5H458.5V420.5" fill="none" stroke="#ececec" stroke-opacity="0.8"/>
<text x="448.25" y="200.08" fill="#444444">8</text>
<text x="412.87" y="190.89" fill="#444444">10</text>
<text x="412.87" y="209.27" fill="#444444">10</text>
<text x="438.71" y="233.55" fill="#444444">11</text>
<text x="385.68" y="234.3" fill="#444444">12</text>
<text x="412.87" y="233.55" fill="#444444">12</text>
<text x="385.68" y="200.83" fill="#444444">16</text>
<text x="385.68" y="263.91" fill="#444444">18</text>
<text x="424.04" y="263.91" fill="#444444">18</text>
<text x="344.99" y="263.98" fill="#444444">19</text>
<text x="344.99" y="198.48" fill="#444444">21</text>
<text x="344.99" y="232.03" fill="#444444">21</text>
<text x="425.32" y="300.2" fill="#444444">24</text>
<text x="344.99" y="300.2" fill="#444444">26</text>
<text x="385.16" y="300.2" fill="#444444">26</text>
<text x="298.4" y="300.31" fill="#444444">30</text>
<text x="298.4" y="255.66" fill="#444444">34</text>
<text x="298.4" y="206.82" fill="#444444">36</text>
<text x="412.14" y="345.83" fill="#444444">38</text>
<text x="298.4" y="345.83" fill="#444444">43</text>
<text x="355.27" y="345.83" fill="#444444">43</text>
<text x="411.58" y="398.55" fill="#444444">44</text>
<text x="298.4" y="398.55" fill="#444444">49</text>
<text x="354.99" y="398.55" fill="#444444">49</text>
</g>
<g class="s4">
<rect x="606.5" y="176.5" width="24" height="14" fill="url(#g4_5)" stroke="#a6a7a5"/>
<path class="hl" stroke-opacity="0.33" d="M607.5 190V177.5H630"/>
<rect x="606.5" y="190.5" width="24" height="16" fill="url(#g4_6)" stroke="#a5a7a4"/>
<path class="hl" stroke-opacity="0.33" d="M607.5 206V191.5H630"/>
<rect x="591.5" y="176.5" width="15" height="30" fill="url(#g4_7)" stroke="#a5a7a4"/>
<path class="hl" stroke-opacity="0.33" d="M592.5 206V177.5H606"/>
<rect x="612.5" y="206.5" width="18" height="28" fill="url(#g4_8)" stroke="#a4a6a3"/>
<path class="hl" stroke-opacity="0.33" d="M613.5 234V207.5H630"/>
<rect x="591.5" y="206.5" width="21" height="28" fill="url(#g4_9)" stroke="#a3a6a2"/>
<path class="hl" stroke-opacity="0.32" d="M592.5 234V207.5H612"/>
<rect x="566.5" y="209.5" width="25" height="25" fill="url(#g4_10)" stroke="#a3a5a1"/>
<path class="hl" stroke-opacity="0.32" d="M567.5 234V210.5H591"/>
<rect x="566.5" y="176.5" width="25" height="33" fill="url(#g4_13)" stroke="#a1a49f"/>
<path class="hl" stroke-opacity="0.32" d="M567.5 209V177.5H591"/>
<rect x="602.5" y="234.5" width="28" height="35" fill="url(#g4_15)" stroke="#9fa49d"/>
<path class="hl" stroke-opacity="0.31" d="M603.5 269V235.5H630"/>
<rect x="566.5" y="234.5" width="36" height="35" fill="url(#g4_19)" stroke="#9da29a"/>
<path class="hl" stroke-opacity="0.31" d="M567.5 269V235.5H602"/>
<rect x="521.5" y="208.5" width="45" height="30" fill="url(#g4_21)" stroke="#9ba198"/>
<path class="hl" stroke-opacity="0.30" d="M522.5 238V209.5H566"/>
<rect x="521.5" y="238.5" width="45" height="31" fill="url(#g4_21)" stroke="#9ba198"/>
<path class="hl" stroke-opacity="0.30" d="M522.5 269V239.5H566"/>
<rect x="521.5" y="176.5" width="45" height="32" fill="url(#g4_22)" stroke="#9ba198"/>
<path class="hl" stroke-opacity="0.30" d="M522.5 208V177.5H566"/>
<rect x="596.5" y="269.5" width="34" height="43" fill="url(#g4_23)" stroke="#9aa097"/>
<path class="hl" stroke-opacity="0.30" d="M597.5 312V270.5H630"/>
<rect x="560.5" y="269.5" width="36" height="43" fill="url(#g4_24)" stroke="#99a096"/>
<path class="hl" stroke-opacity="0.30" d="M561.5 312V270.5H596"/>
<rect x="521.5" y="269.5" width="39" height="43" fill="url(#g4_26)" stroke="#989f94"/>
<path class="hl" stroke-opacity="0.30" d="M522.5 312V270.5H560"/>
<rect x="474.5" y="274.5" width="47" height="38" fill="url(#g4_27)" stroke="#979f94"/>
<path class="hl" stroke-opacity="0.30" d="M475.5 312V275.5H521"/>
<rect x="474.5" y="230.5" width="47" height="44" fill="url(#g4_32)" stroke="#949d90"/>
<path class="hl" stroke-opacity="0.29" d="M475.5 274V231.5H521"/>
<rect x="581.5" y="312.5" width="49" height="51" fill="url(#g4_39)" stroke="#8f9a8a"/>
<path class="hl" stroke-opacity="0.28" d="M582.5 363V313.5H630"/>
<rect x="474.5" y="176.5" width="47" height="54" fill="url(#g4_39)" stroke="#8f9a8a"/>
<path class="hl" stroke-opacity="0.28" d="M475.5 230V177.5H521"/>
<rect x="528.5" y="312.5" width="53" height="51" fill="url(#g4_42)" stroke="#8d9988"/>
<path class="hl" stroke-opacity="0.27" d="M529.5 363V313.5H581"/>
<rect x="474.5" y="312.5" width="54" height="51" fill="url(#g4_43)" stroke="#8d9987"/>
<path class="hl" stroke-opacity="0.27" d="M475.5 363V313.5H528"/>
<rect x="581.5" y="363.5" width="49" height="58" fill="url(#g4_44)" stroke="#8c9886"/>
<path class="hl" stroke-opacity="0.27" d="M582.5 421V364.5H630"/>
<rect x="528.5" y="363.5" width="53" height="58" fill="url(#g4_47)" stroke="#8a9784"/>
<path class="hl" stroke-opacity="0.26" d="M529.5 421V364.5H581"/>
<rect x="474.5" y="363.5" width="54" height="58" fill="url(#g4_48)" stroke="#899783"/>
<path class="hl" stroke-opacity="0.26" d="M475.5 421V364.5H528"/>
<path d="M474.5 420.5V176.5H630.5V420.5" fill="none" stroke="#ececec" stroke-opacity="0.8"/>
<text x="610.64" y="188.52" fill="#444444">5</text>
<text x="610.64" y="203.51" fill="#444444">6</text>
<text x="595.52" y="196.7" fill="#444444">7</text>
<text x="616.1" y="225.85" fill="#444444">8</text>
<text x="595.52" y="225.85" fill="#444444">9</text>
<text x="569.97" y="227.34" fill="#444444">10</text>
<text x="569.97" y="198.18" fill="#444444">13</text>
<text x="605.98" y="257.11" fill="#444444">15</text>
<text x="569.97" y="257.11" fill="#444444">19</text>
<text x="525.15" y="228.67" fill="#444444">21</text>
<text x="525.15" y="259.03" fill="#444444">21</text>
<text x="525.15" y="197.6" fill="#444444">22</text>
<text x="599.98" y="295.85" fill="#444444">23</text>
<text x="564.06" y="295.85" fill="#444444">24</text>
<text x="525.15" y="295.85" fill="#444444">26</text>
<text x="478.4" y="298.78" fill="#444444">27</text>
<text x="478.4" y="257.91" fill="#444444">32</text>
<text x="585.34" y="343.23" fill="#444444">39</text>
<text x="478.4" y="208.72" fill="#444444">39</text>
<text x="532.5" y="343.23" fill="#444444">42</text>
<text x="478.4" y="343.23" fill="#444444">43</text>
<text x="585.02" y="397.84" fill="#444444">44</text>
<text x="532.27" y="397.84" fill="#444444">47</text>
<text x="478.4" y="397.84" fill="#444444">48</text>
</g>
<g class="s3">
<rect x="608.5" y="47.5" width="22" height="19" fill="url(#g3_7)" stroke="#9ca2a2"/>
<path class="hl" stroke-opacity="0.31" d="M609.5 66V48.5H630"/>
<rect x="581.5" y="70.5" width="27" height="18" fill="url(#g3_8)" stroke="#99a0a0"/>
<path class="hl" stroke-opacity="0.30" d="M582.5 88V71.5H608"/>
<rect x="608.5" y="66.5" width="22" height="22" fill="url(#g3_8)" stroke="#99a0a0"/>
<path class="hl" stroke-opacity="0.30" d="M609.5 88V67.5H630"/>
<rect x="581.5" y="47.5" width="27" height="23" fill="url(#g3_10)" stroke="#949e9d"/>
<path class="hl" stroke-opacity="0.29" d="M582.5 70V48.5H608"/>
<rect x="607.5" y="88.5" width="23" height="29" fill="url(#g3_11)" stroke="#929c9c"/>
<path class="hl" stroke-opacity="0.29" d="M608.5 117V89.5H630"/>
<rect x="581.5" y="88.5" width="26" height="29" fill="url(#g3_12)" stroke="#909b9a"/>
<path class="hl" stroke-opacity="0.28" d="M582.5 117V89.5H607"/>
<rect x="557.5" y="47.5" width="24" height="35" fill="url(#g3_14)" stroke="#8b9898"/>
<path class="hl" stroke-opacity="0.27" d="M558.5 82V48.5H581"/>
<rect x="557.5" y="82.5" width="24" height="35" fill="url(#g3_14)" stroke="#8b9898"/>
<path class="hl" stroke-opacity="0.27" d="M558.5 117V83.5H581"/>
<rect x="527.5" y="84.5" width="30" height="33" fill="url(#g3_16)" stroke="#869595"/>
<path class="hl" stroke-opacity="0.26" d="M528.5 117V85.5H557"/>
<rect x="527.5" y="47.5" width="30" height="37" fill="url(#g3_18)" stroke="#829292"/>
<path class="hl" stroke-opacity="0.25" d="M528.5 84V48.5H557"/>
<rect x="597.5" y="117.5" width="33" height="35" fill="url(#g3_19)" stroke="#7f9190"/>
<path class="hl" stroke-opacity="0.25" d="M598.5 152V118.5H630"/>
<rect x="527.5" y="117.5" width="35" height="35" fill="url(#g3_20)" stroke="#7d908f"/>
<path class="hl" stroke-opacity="0.25" d="M528.5 152V118.5H562"/>
<rect x="562.5" y="117.5" width="35" height="35" fill="url(#g3_20)" stroke="#7d908f"/>
<path class="hl" stroke-opacity="0.25" d="M563.5 152V118.5H597"/>
<rect x="483.5" y="122.5" width="44" height="30" fill="url(#g3_22)" stroke="#788d8c"/>
<path class="hl" stroke-opacity="0.24" d="M484.5 152V123.5H527"/>
<rect x="483.5" y="86.5" width="44" height="36" fill="url(#g3_26)" stroke="#6f8786"/>
<path class="hl" stroke-opacity="0.22" d="M484.5 122V87.5H527"/>
<rect x="483.5" y="47.5" width="44" height="39" fill="url(#g3_28)" stroke="#6a8583"/>
<path class="hl" stroke-opacity="0.21" d="M484.5 86V48.5H527"/>
<rect x="447.5" y="103.5" width="36" height="49" fill="url(#g3_29)" stroke="#688382"/>
<path class="hl" stroke-opacity="0.21" d="M448.5 152V104.5H483"/>
<rect x="447.5" y="47.5" width="36" height="56" fill="url(#g3_33)" stroke="#5e7e7c"/>
<path class="hl" stroke-opacity="0.19" d="M448.5 103V48.5H483"/>
<rect x="403.5" y="102.5" width="44" height="50" fill="url(#g3_36)" stroke="#577978"/>
<path class="hl" stroke-opacity="0.18" d="M404.5 152V103.5H447"/>
<rect x="403.5" y="47.5" width="44" height="55" fill="url(#g3_40)" stroke="#4e7472"/>
<path class="hl" stroke-opacity="0.16" d="M404.5 102V48.5H447"/>
<rect x="350.5" y="101.5" width="53" height="51" fill="url(#g3_44)" stroke="#446e6c"/>
<path class="hl" stroke-opacity="0.15" d="M351.5 152V102.5H403"/>
<rect x="350.5" y="47.5" width="53" height="54" fill="url(#g3_47)" stroke="#3d6a68"/>
<path class="hl" stroke-opacity="0.14" d="M351.5 101V48.5H403"/>
<rect x="294.5" y="100.5" width="56" height="52" fill="url(#g3_48)" stroke="#3b6967"/>
<path class="hl" stroke-opacity="0.14" d="M295.5 152V101.5H350"/>
<rect x="294.5" y="47.5" width="56" height="53" fill="url(#g3_49)" stroke="#396765"/>
<path class="hl" stroke-opacity="0.13" d="M295.5 100V48.5H350"/>
<path d="M294.5 151.5V47.5H630.5V151.5" fill="none" stroke="#ececec" stroke-opacity="0.8"/>
<text x="612.24" y="62.33" fill="#444444">7</text>
<text x="585.65" y="84.78" fill="#444444">8</text>
<text x="612.24" y="82.95" fill="#444444">8</text>
<text x="585.65" y="64.16" fill="#444444">10</text>
<text x="611.09" y="108.33" fill="#444444">11</text>
<text x="585.65" y="108.33" fill="#444444">12</text>
<text x="561.28" y="70.2" fill="#444444">14</text>
<text x="561.28" y="105.2" fill="#444444">14</text>
<text x="531.68" y="106.23" fill="#444444">16</text>
<text x="531.68" y="71.23" fill="#444444">18</text>
<text x="601.32" y="140.2" fill="#444444">19</text>
<text x="531.68" y="140.2" fill="#444444">20</text>
<text x="566.5" y="140.2" fill="#444444">20</text>
<text x="487.58" y="142.5" fill="#444444">22</text>
<text x="487.58" y="109.34" fill="#444444">26</text>
<text x="487.58" y="72.04" fill="#444444">28</text>
<text x="451.6" y="133.14" fill="#444444">29</text>
<text x="451.6" y="80.64" fill="#444444">33</text>
<text x="407.5" y="132.83" fill="#444444">36</text>
<text x="407.5" y="80.33" fill="#444444">40</text>
<text x="354.69" y="132.32" fill="#444444">44</text>
<text x="354.69" y="79.82" fill="#444444">47</text>
<text x="298.4" y="131.72" fill="#444444">48</text>
<text x="298.4" y="79.22" fill="#444444">49</text>
</g>
</g>
<g class="labels">
<g transform="translate(17,232)"><path d="M0.5 0.5L8.7 -3L8.7 0.5Z" fill="#d2d2d2" stroke="#9a9a9a" stroke-width="0.8"/><path d="M0.5 0.5H121.5L114 16.5H0.5Z" fill="#fff"/><path d="M0.5 0.5H121.5L114 16.5H0.5Z" fill="url(#lab)"/><rect x="0.5" y="0.5" width="8" height="16" fill="url(#labl)"/><path d="M121.5 0.5H0.5V16.5H114" fill="none" stroke="#858585" stroke-width="1"/><text class="lb" x="10.3" y="10.6" textLength="34.4" lengthAdjust="spacingAndGlyphs">Series 2</text><text class="lv" x="48" y="10.6" textLength="61.6" lengthAdjust="spacingAndGlyphs">(744 - 23.56%)</text></g>
<g transform="translate(17,414)"><path d="M0.5 0.5L8.7 -3L8.7 0.5Z" fill="#d2d2d2" stroke="#9a9a9a" stroke-width="0.8"/><path d="M0.5 0.5H121.5L114 16.5H0.5Z" fill="#fff"/><path d="M0.5 0.5H121.5L114 16.5H0.5Z" fill="url(#lab)"/><rect x="0.5" y="0.5" width="8" height="16" fill="url(#labl)"/><path d="M121.5 0.5H0.5V16.5H114" fill="none" stroke="#858585" stroke-width="1"/><text class="lb" x="10.3" y="10.6" textLength="34.4" lengthAdjust="spacingAndGlyphs">Series 1</text><text class="lv" x="48" y="10.6" textLength="61.6" lengthAdjust="spacingAndGlyphs">(627 - 19.85%)</text></g>
<g transform="translate(286,414)"><path d="M0.5 0.5L8.7 -3L8.7 0.5Z" fill="#d2d2d2" stroke="#9a9a9a" stroke-width="0.8"/><path d="M0.5 0.5H121.5L114 16.5H0.5Z" fill="#fff"/><path d="M0.5 0.5H121.5L114 16.5H0.5Z" fill="url(#lab)"/><rect x="0.5" y="0.5" width="8" height="16" fill="url(#labl)"/><path d="M121.5 0.5H0.5V16.5H114" fill="none" stroke="#858585" stroke-width="1"/><text class="lb" x="10.3" y="10.6" textLength="34.4" lengthAdjust="spacingAndGlyphs">Series 5</text><text class="lv" x="48" y="10.6" textLength="61.6" lengthAdjust="spacingAndGlyphs">(618 - 19.57%)</text></g>
<g transform="translate(466,414)"><path d="M0.5 0.5L8.7 -3L8.7 0.5Z" fill="#d2d2d2" stroke="#9a9a9a" stroke-width="0.8"/><path d="M0.5 0.5H121.5L114 16.5H0.5Z" fill="#fff"/><path d="M0.5 0.5H121.5L114 16.5H0.5Z" fill="url(#lab)"/><rect x="0.5" y="0.5" width="8" height="16" fill="url(#labl)"/><path d="M121.5 0.5H0.5V16.5H114" fill="none" stroke="#858585" stroke-width="1"/><text class="lb" x="10.3" y="10.6" textLength="34.4" lengthAdjust="spacingAndGlyphs">Series 4</text><text class="lv" x="48" y="10.6" textLength="61.6" lengthAdjust="spacingAndGlyphs">(590 - 18.68%)</text></g>
<g transform="translate(286,145)"><path d="M0.5 0.5L8.7 -3L8.7 0.5Z" fill="#d2d2d2" stroke="#9a9a9a" stroke-width="0.8"/><path d="M0.5 0.5H121.5L114 16.5H0.5Z" fill="#fff"/><path d="M0.5 0.5H121.5L114 16.5H0.5Z" fill="url(#lab)"/><rect x="0.5" y="0.5" width="8" height="16" fill="url(#labl)"/><path d="M121.5 0.5H0.5V16.5H114" fill="none" stroke="#858585" stroke-width="1"/><text class="lb" x="10.3" y="10.6" textLength="34.4" lengthAdjust="spacingAndGlyphs">Series 3</text><text class="lv" x="48" y="10.6" textLength="61.6" lengthAdjust="spacingAndGlyphs">(579 - 18.33%)</text></g>
</g>
</svg>
</body></html>
